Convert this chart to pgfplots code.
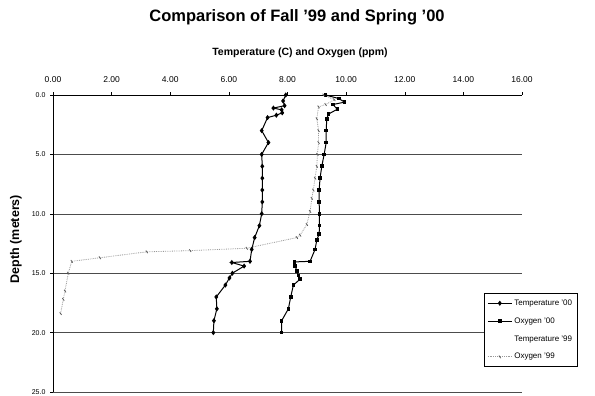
\documentclass[border=0pt]{standalone}
\usepackage{pgfplots}
\pgfplotsset{compat=1.18}
\usepackage{fontspec}
\setmainfont{Liberation Sans}

\pgfplotstableread{
x y
7.94 0
7.85 0.5
7.90 0.9
7.52 1.1
7.80 1.25
7.82 1.5
7.62 1.7
7.32 1.9
7.12 3.0
7.35 4.0
7.12 5.0
7.14 6.0
7.14 7.0
7.14 8.0
7.14 9.0
7.12 10.0
7.04 11.0
6.88 12.0
6.78 13.0
6.72 14.0
6.10 14.1
6.52 14.4
6.12 15.0
6.02 15.4
5.88 16.0
5.57 17.0
5.59 18.0
5.49 19.0
5.47 20.0
}\tempzero

\pgfplotstableread{
x y
9.30 0
9.75 0.3
9.95 0.6
9.55 0.8
9.70 1.2
9.40 1.6
9.34 2.0
9.32 3.0
9.32 4.0
9.25 5.0
9.17 6.0
9.11 7.0
9.08 8.0
9.08 9.0
9.09 10.0
9.09 11.0
9.08 11.7
9.00 12.2
8.94 13.0
8.77 14.0
8.24 14.05
8.26 14.4
8.32 14.8
8.37 15.2
8.43 15.5
8.20 16.0
8.11 17.0
8.03 18.0
7.80 19.0
7.80 20.0
}\oxyzero

\pgfplotstableread{
x y
9.23 0
9.60 0.4
9.30 0.8
9.06 1.0
9.00 2.0
9.06 3.0
9.06 4.0
9.02 5.0
9.00 6.0
8.94 7.0
8.88 8.0
8.83 8.7
8.77 9.8
8.66 10.9
8.43 11.8
8.32 12.0
6.61 12.9
4.68 13.1
3.20 13.2
1.60 13.7
0.64 14.0
0.52 15.0
0.41 16.5
0.35 17.2
0.26 18.4
}\oxynine

\begin{document}
\begin{tikzpicture}
\path[use as bounding box] (0,0) rectangle (595pt,396pt);
\node[font=\bfseries\fontsize{16.5}{19}\selectfont] at (297pt,379pt) {Comparison of Fall '99 and Spring '00};
\node[font=\bfseries\fontsize{10.5}{12}\selectfont] at (300pt,343pt) {Temperature (C) and Oxygen (ppm)};
\node[font=\bfseries\fontsize{12.5}{14}\selectfont, rotate=90] at (16pt,157pt) {Depth (meters)};
\begin{axis}[
  at={(53pt,4pt)}, anchor=south west,
  scale only axis, width=469pt, height=297pt,
  xmin=0, xmax=16, ymin=0, ymax=25, y dir=reverse,
  axis x line=top, axis y line=left,
  axis line style={-, black, line width=0.8pt},
  xtick={0,2,...,16}, ytick={0,5,...,25},
  /pgf/number format/assume math mode=true,
  xticklabel={\pgfmathprintnumber[fixed,fixed zerofill,precision=2]{\tick}},
  yticklabel={\pgfmathprintnumber[fixed,fixed zerofill,precision=1]{\tick}},
  xticklabel style={font=\fontsize{8.5}{9}\selectfont, yshift=6pt},
  yticklabel style={font=\fontsize{7}{8}\selectfont, xshift=-1pt},
  tick align=outside, major tick length=3pt,
  tick style={black, line width=0.5pt},
  ymajorgrids, major grid style={black!70, line width=0.6pt},
  clip=false,
  legend cell align=left,
  legend style={at={(0.919,0.332)}, anchor=north west, draw=black, line width=0.6pt,
    font=\fontsize{8}{9}\selectfont, row sep=6.8pt, inner ysep=4pt, inner xsep=3pt},
  legend image code/.code={
    \draw[#1] (0pt,0pt) -- (24pt,0pt);
    \draw[#1, only marks] plot coordinates {(12pt,0pt)};
  },
]
\addplot[black, line width=1pt, mark=diamond*, mark size=1.8pt] table {\tempzero};
\addlegendentry{Temperature '00}
\addplot[black, line width=1pt, mark=square*, mark size=1.3pt] table {\oxyzero};
\addlegendentry{Oxygen '00}
\addlegendimage{white, mark=none}
\addlegendentry{Temperature '99}
\addplot[black!40, line width=0.8pt, densely dotted, mark=|, mark size=1.6pt,
  mark options={solid, rotate=35, black!65}] table {\oxynine};
\addlegendentry{Oxygen '99}
\end{axis}
\end{tikzpicture}
\end{document}
